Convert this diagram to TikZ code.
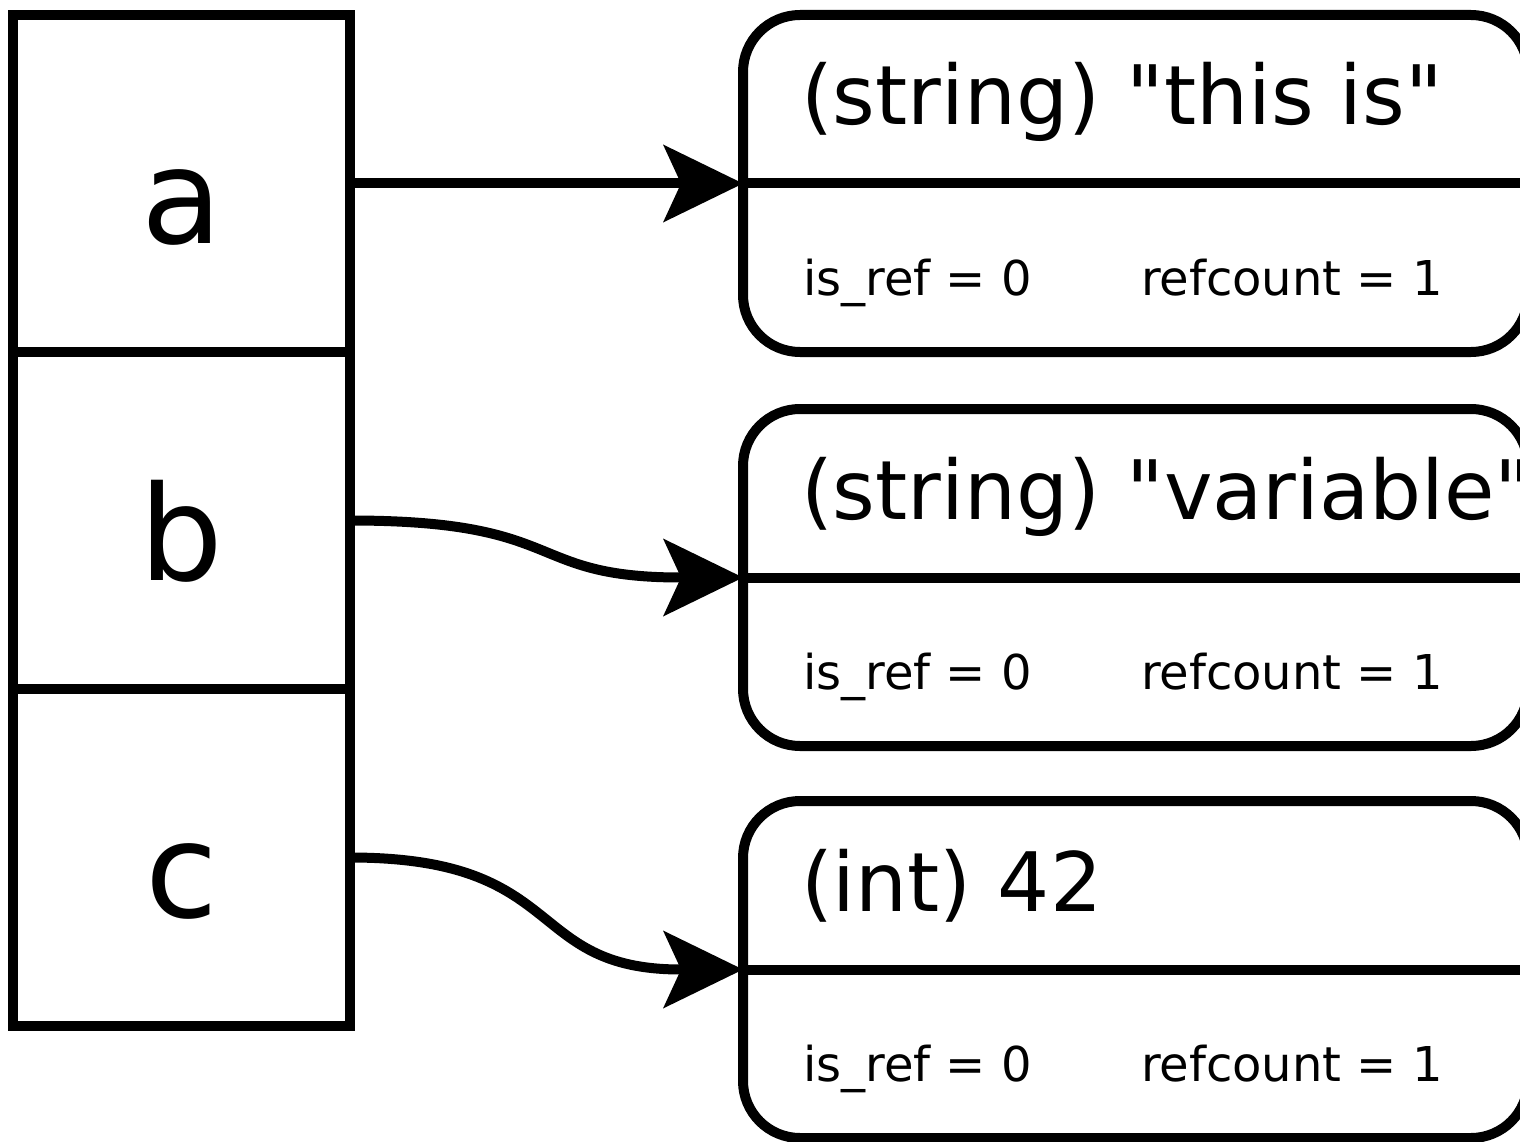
\documentclass[tikz,border=0pt]{standalone}
\usepackage{fontspec}
\setmainfont{DejaVu Sans}[Ligatures=TeXOff]
\usetikzlibrary{arrows.meta}
\begin{document}
\begin{tikzpicture}[x=1pt,y=-1pt,line width=10pt,
  cell/.style={draw, minimum width=337pt, minimum height=337pt, inner sep=0pt, outer sep=0pt,
    text height=120pt, text depth=0pt, font=\fontsize{132}{132}\selectfont},
  valbox/.style={draw, rounded corners=57pt, minimum width=785pt, minimum height=337pt,
    inner sep=0pt, outer sep=0pt},
  big/.style={anchor=base west, inner sep=0pt, font=\fontsize{82}{82}\selectfont},
  small/.style={anchor=base west, inner sep=0pt, font=\fontsize{48}{48}\selectfont},
  ptr/.style={-{Stealth[length=80pt,width=78pt,inset=18pt,line width=0pt]}}]
\clip (0,0) rectangle (1520,1142);
% variable cells
\node[cell] (a) at (181.5,183.5) {a};
\node[cell] (b) at (181.5,520.5) {b};
\node[cell] (c) at (181.5,857.5) {c};
% value boxes
\node[valbox] (v1) at (1135.5,183.5) {};
\node[valbox] (v2) at (1135.5,577.5) {};
\node[valbox] (v3) at (1135.5,969.5) {};
\draw (v1.west) -- (v1.east);
\draw (v2.west) -- (v2.east);
\draw (v3.west) -- (v3.east);
% texts
\node[big] (t1) at (796,125) {(string) "this is"};
\node[big] (t2) at (796,519) {(string) "variable"};
\node[big] (t3) at (796,911) {(int) 42};
\node[small] (r1) at (798,295) {is\_ref = 0};
\node[small] (n1) at (1136,295) {refcount = 1};
\node[small] (r2) at (798,689) {is\_ref = 0};
\node[small] (n2) at (1136,689) {refcount = 1};
\node[small] (r3) at (798,1081) {is\_ref = 0};
\node[small] (n3) at (1136,1081) {refcount = 1};
% pointers
\draw[ptr] (a.east) -- (v1.west);
\draw[ptr] (b.east) .. controls +(220,0) and +(-220,0) .. (v2.west);
\draw[ptr] (c.east) .. controls +(220,0) and +(-220,0) .. (v3.west);
\end{tikzpicture}
\end{document}
